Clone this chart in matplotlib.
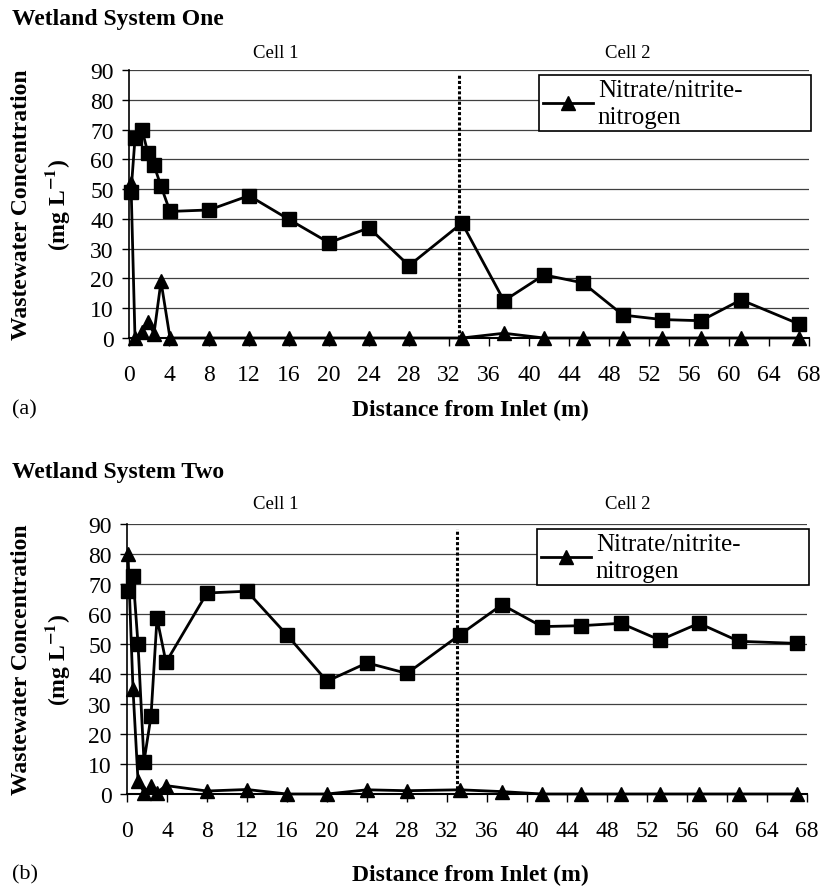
import numpy as np
import matplotlib
matplotlib.use("Agg")
from matplotlib import pyplot as plt

plt.rcParams['font.family'] = ['Liberation Serif', 'DejaVu Serif']
plt.rcParams['mathtext.fontset'] = 'stix'

# distancias (m) e concentracoes (mg/L)
dist_one = [0.2, 0.6, 1.3, 1.9, 2.5, 3.2, 4.1, 8, 12, 16, 20, 24, 28,
            33.3, 37.5, 41.5, 45.4, 49.4, 53.3, 57.2, 61.2, 67]
nitrate_one = [52, 0, 2, 5.5, 1.5, 19, 0, 0, 0, 0, 0, 0, 0,
               0, 1.6, 0, 0, 0, 0, 0, 0, 0]
ammonium_one = [49, 67, 70, 62, 58, 51, 42.5, 43, 47.8, 39.8, 32, 37, 24.3,
                38.6, 12.5, 21.2, 18.5, 7.7, 6.2, 5.8, 12.8, 4.7]

dist_two = [0.1, 0.6, 1.1, 1.7, 2.4, 3.0, 3.9, 8, 12, 16, 20, 24, 28,
            33.3, 37.5, 41.5, 45.4, 49.4, 53.3, 57.2, 61.2, 67]
nitrate_two = [80, 35, 4.5, 0.5, 2.8, 0.5, 2.8, 1, 1.5, 0, 0, 1.4, 1.1,
               1.4, 0.8, 0, 0, 0, 0, 0, 0, 0]
ammonium_two = [67.8, 72.8, 50, 10.8, 25.9, 58.6, 43.9, 67, 67.6, 53, 37.6, 43.7, 40.2,
                53.1, 63.1, 55.8, 56.1, 56.9, 51.3, 56.9, 50.9, 50.2]

cell_boundary = 33
x_ticks = list(range(0, 69, 4))
y_ticks = list(range(0, 91, 10))

W, H = 822, 887
fig = plt.figure(figsize=(W / 100, H / 100), dpi=100)


def painel(left, right, top, bottom, dist, nitrate, ammonium, titulo, letra,
           y_titulo, y_cell, y_xlabel):
    ax = fig.add_axes([left / W, 1 - bottom / H, (right - left) / W, (bottom - top) / H])
    ax.plot(dist, ammonium, color='black', lw=2, marker='s', markersize=10,
            label='_nolegend_', zorder=3, clip_on=False)
    ax.plot(dist, nitrate, color='black', lw=2, marker='^', markersize=10,
            label='Nitrate/nitrite-\nnitrogen', zorder=4, clip_on=False)
    ax.axvline(cell_boundary, ymin=0, ymax=0.98, color='black', lw=2.2,
               linestyle=(0, (1, 0.7)), zorder=2)
    ax.set_xlim(0, 68)
    ax.set_ylim(0, 90)
    ax.set_xticks(x_ticks)
    ax.set_yticks(y_ticks)
    ax.tick_params(axis='x', direction='out', length=6, width=1, pad=13, labelsize=17)
    ax.tick_params(axis='y', direction='out', length=5, width=1, pad=6, labelsize=17)
    ax.yaxis.grid(True, color='0.25', lw=0.9)
    ax.set_axisbelow(True)
    for s in ['top', 'right']:
        ax.spines[s].set_visible(False)
    ax.spines['left'].set_linewidth(1.2)
    ax.spines['bottom'].set_linewidth(1.5)

    leg = ax.legend(loc='upper left', bbox_to_anchor=(0.603, 0.772, 0.4, 0.21),
                    mode='expand', borderaxespad=0, fancybox=False, framealpha=1,
                    edgecolor='black', fontsize=18, handlelength=2.0,
                    handletextpad=0.2, borderpad=0.15, labelspacing=0.1)
    leg.get_frame().set_linewidth(1.2)
    for t in leg.get_texts():
        t.set_linespacing(1.3)

    # textos
    fig.text(12 / W, 1 - y_titulo / H, titulo, fontsize=17, fontweight='bold',
             ha='left', va='center')
    fig.text(276 / W, 1 - y_cell / H, 'Cell 1', fontsize=13.5, ha='center', va='center')
    fig.text(628 / W, 1 - y_cell / H, 'Cell 2', fontsize=13.5, ha='center', va='center')
    ymid = 1 - (top + bottom) / 2 / H
    fig.text(22 / W, ymid, 'Wastewater Concentration', fontsize=17, fontweight='bold',
             rotation=90, ha='center', va='center')
    fig.text(57 / W, ymid, r'(mg L$^{\mathbf{-1}}$)', fontsize=17, fontweight='bold',
             rotation=90, ha='center', va='center')
    fig.text(470 / W, 1 - y_xlabel / H, 'Distance from Inlet (m)', fontsize=17,
             fontweight='bold', ha='center', va='center')
    fig.text(12 / W, 1 - y_xlabel / H, letra, fontsize=16, ha='left', va='center')
    return ax


painel(129, 809, 71, 339, dist_one, nitrate_one, ammonium_one,
       'Wetland System One', '(a)', 20, 53, 410)
painel(127, 807, 525, 795, dist_two, nitrate_two, ammonium_two,
       'Wetland System Two', '(b)', 473, 505, 875)

plt.savefig('out.png', dpi=100)
